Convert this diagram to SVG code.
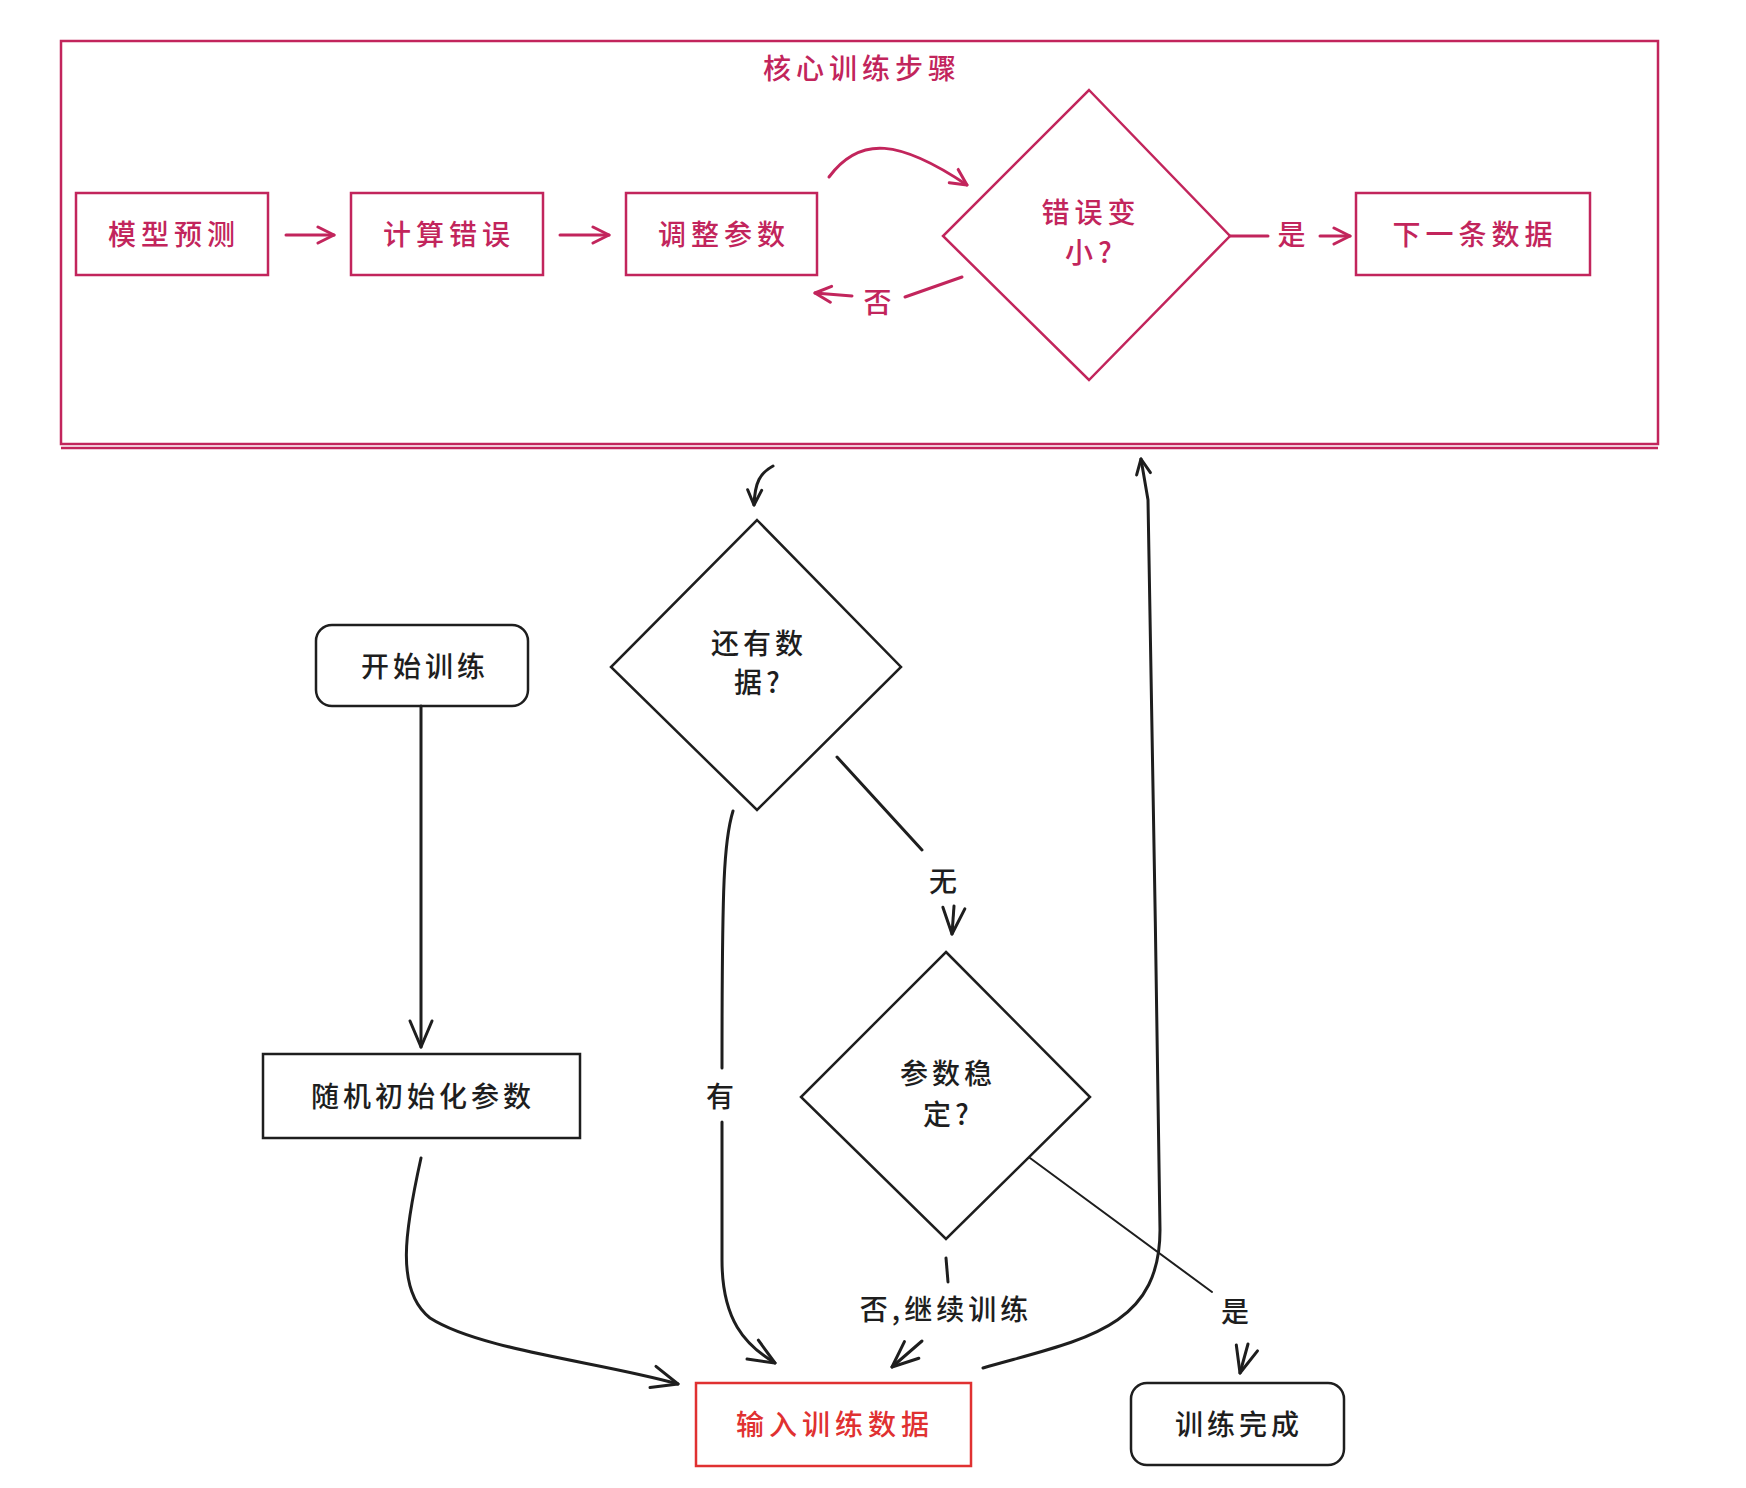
<svg xmlns="http://www.w3.org/2000/svg" width="1746" height="1488" viewBox="0 0 1746 1488">
<defs>
<marker id="ap" viewBox="0 0 20 20" refX="18" refY="10" markerWidth="20" markerHeight="20" markerUnits="userSpaceOnUse" orient="auto">
<path d="M2 2 L18 10 L2 18" fill="none" stroke="#c2255c" stroke-width="3" stroke-linecap="round" stroke-linejoin="round"/>
</marker>
<marker id="ak" viewBox="0 0 30 30" refX="28" refY="15" markerWidth="30" markerHeight="30" markerUnits="userSpaceOnUse" orient="auto">
<path d="M2 4 L28 15 L2 26" fill="none" stroke="#1e1e1e" stroke-width="3" stroke-linecap="round" stroke-linejoin="round"/>
</marker>
<marker id="aks" viewBox="0 0 20 20" refX="18" refY="10" markerWidth="20" markerHeight="20" markerUnits="userSpaceOnUse" orient="auto">
<path d="M3 3 L18 10 L3 17" fill="none" stroke="#1e1e1e" stroke-width="3" stroke-linecap="round" stroke-linejoin="round"/>
</marker>
</defs>
<style>
text{font-family:"Noto Sans CJK SC","Noto Sans",sans-serif;text-anchor:middle;dominant-baseline:central;font-weight:500;}
.pk{fill:none;stroke:#c2255c;stroke-width:2.5;}
.bk{fill:none;stroke:#1e1e1e;stroke-width:2.5;}
.rd{fill:none;stroke:#e03131;stroke-width:2.5;}
.tp{fill:#c2255c;font-size:28px;letter-spacing:5px;}
.tb{fill:#1e1e1e;font-size:28px;letter-spacing:4px;}
.tr{fill:#e03131;font-size:28px;letter-spacing:5px;}
.cp{fill:none;stroke:#c2255c;stroke-width:3;stroke-linecap:round;}
.ck{fill:none;stroke:#1e1e1e;stroke-width:3;stroke-linecap:round;}
.ckt{fill:none;stroke:#1e1e1e;stroke-width:2;stroke-linecap:round;}
</style>
<rect width="1746" height="1488" fill="#ffffff"/>

<g id="frame-core">
<rect class="pk" x="61" y="41" width="1597" height="403"/>
<line class="pk" x1="61" y1="448" x2="1658" y2="448"/>
<text class="tp" x="862" y="67">核心训练步骤</text>
</g>

<g id="node-predict">
<rect class="pk" x="76" y="193" width="192" height="82"/>
<text class="tp" x="174" y="233">模型预测</text>
</g>
<g id="node-error">
<rect class="pk" x="351" y="193" width="192" height="82"/>
<text class="tp" x="449" y="233">计算错误</text>
</g>
<g id="node-adjust">
<rect class="pk" x="626" y="193" width="191" height="82"/>
<text class="tp" x="724" y="233">调整参数</text>
</g>
<g id="node-errsmaller">
<polygon class="pk" points="1089,90 1230,236 1089,380 943,236"/>
<text class="tp" x="1091" y="211">错误变</text>
<text class="tp" x="1091" y="251">小?</text>
</g>
<g id="node-next">
<rect class="pk" x="1356" y="193" width="234" height="82"/>
<text class="tp" x="1475" y="233">下一条数据</text>
</g>

<g id="node-start">
<rect class="bk" x="316" y="625" width="212" height="81" rx="16"/>
<text class="tb" x="425" y="665">开始训练</text>
</g>
<g id="node-init">
<rect class="bk" x="263" y="1054" width="317" height="84"/>
<text class="tb" x="423" y="1095">随机初始化参数</text>
</g>
<g id="node-hasdata">
<polygon class="bk" points="757,520 901,667 757,810 611,667"/>
<text class="tb" x="759" y="642">还有数</text>
<text class="tb" x="759" y="681">据?</text>
</g>
<g id="node-stable">
<polygon class="bk" points="946,952 1090,1097 946,1239 801,1097"/>
<text class="tb" x="948" y="1072">参数稳</text>
<text class="tb" x="948" y="1113">定?</text>
</g>
<g id="node-input">
<rect class="rd" x="696" y="1383" width="275" height="83"/>
<text class="tr" x="835" y="1423">输入训练数据</text>
</g>
<g id="node-done">
<rect class="bk" x="1131" y="1383" width="213" height="82" rx="16"/>
<text class="tb" x="1239" y="1423">训练完成</text>
</g>

<g id="connectors">
<path class="cp" d="M286 235 L334 235" marker-end="url(#ap)"/>
<path class="cp" d="M560 235 L609 235" marker-end="url(#ap)"/>
<path class="cp" d="M829 177 C860 135, 900 140, 967 185" marker-end="url(#ap)"/>
<path class="cp" d="M962 277 L905 297"/>
<path class="cp" d="M852 296 L815 293" marker-end="url(#ap)"/>
<text class="tp" x="880" y="301">否</text>
<path class="cp" d="M1230 236 L1268 236" stroke-width="5"/>
<path class="cp" d="M1320 236 L1350 236" marker-end="url(#ap)"/>
<text class="tp" x="1294" y="233">是</text>

<path class="ck" d="M421 706 L421 1047" marker-end="url(#ak)"/>
<path class="ck" d="M421 1158 C405 1230, 395 1290, 430 1318 C480 1350, 600 1362, 678 1384" marker-end="url(#ak)"/>
<path class="ck" d="M733 811 C724 840, 722 880, 722 1068"/>
<path class="ck" d="M722 1122 L722 1260 C722 1320, 745 1345, 775 1363" marker-end="url(#ak)"/>
<text class="tb" x="722" y="1095">有</text>
<path class="ck" d="M837 757 L922 850"/>
<path class="ck" d="M954 906 L952 934" marker-end="url(#ak)"/>
<text class="tb" x="945" y="880">无</text>
<path class="ck" d="M946 1258 L948 1282"/>
<path class="ck" d="M922 1341 L892 1367" marker-end="url(#ak)"/>
<text class="tb" x="946" y="1308">否,继续训练</text>
<path class="ckt" d="M1030 1158 L1212 1292"/>
<path class="ck" d="M1248 1344 L1240 1373" marker-end="url(#ak)"/>
<text class="tb" x="1237" y="1310">是</text>
<path class="ck" d="M983 1368 C1080 1340, 1160 1330, 1160 1230 C1158 1000, 1150 700, 1148 500 L1141 459" marker-end="url(#aks)"/>
<path class="ck" d="M773 466 C760 473, 755 482, 754 505" marker-end="url(#aks)"/>
</g>
</svg>
